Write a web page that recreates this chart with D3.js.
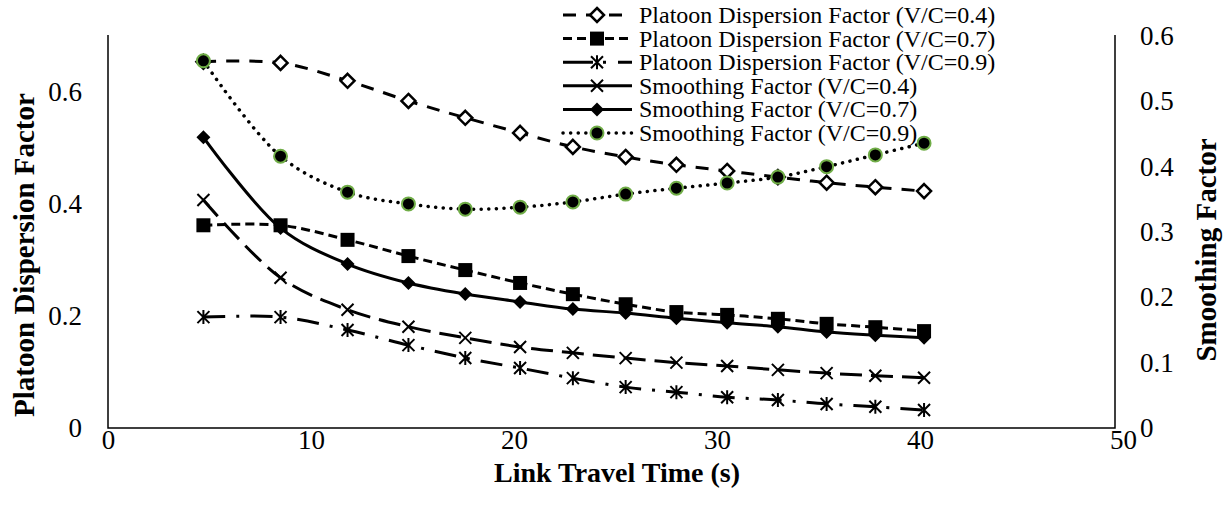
<!DOCTYPE html>
<html>
<head>
<meta charset="utf-8">
<script src="https://cdn.jsdelivr.net/npm/d3@7"></script>
<style>
  body { margin: 0; background: #fff; }
  svg, svg text { font-family: "Liberation Serif", "Times New Roman", serif; }
</style>
</head>
<body>
<svg width="1226" height="507"></svg>
<script>
// link travel time (s)
const travelTime = [4.7, 8.5, 11.8, 14.8, 17.6, 20.3, 22.9, 25.5, 28.0, 30.5, 33.0, 35.4, 37.8, 40.2];

// platoon dispersion factor (left axis)
const pdf04 = [0.654, 0.652, 0.620, 0.584, 0.554, 0.527, 0.502, 0.484, 0.470, 0.459, 0.448, 0.438, 0.430, 0.423];
const pdf07 = [0.362, 0.362, 0.336, 0.307, 0.282, 0.259, 0.239, 0.221, 0.207, 0.202, 0.195, 0.186, 0.180, 0.173];
const pdf09 = [0.198, 0.198, 0.175, 0.148, 0.125, 0.107, 0.089, 0.073, 0.064, 0.055, 0.050, 0.043, 0.038, 0.032];

// smoothing factor (right axis)
const sf04 = [0.349, 0.230, 0.181, 0.155, 0.138, 0.124, 0.115, 0.107, 0.100, 0.095, 0.089, 0.084, 0.080, 0.077];
const sf07 = [0.445, 0.306, 0.251, 0.222, 0.205, 0.193, 0.182, 0.176, 0.168, 0.161, 0.155, 0.147, 0.142, 0.138];
const sf09 = [0.562, 0.416, 0.361, 0.343, 0.335, 0.338, 0.346, 0.358, 0.367, 0.375, 0.384, 0.400, 0.418, 0.436];

const xTicks = [0, 10, 20, 30, 40, 50];
const leftTicks = [0, 0.2, 0.4, 0.6];
const rightTicks = [0, 0.1, 0.2, 0.3, 0.4, 0.5, 0.6];

let svg = d3.select("svg");

let xScale = d3.scaleLinear().domain([0, 50]).range([108, 1123]);
let yLeft = d3.scaleLinear().domain([0, 0.7]).range([428, 36]);
let yRight = d3.scaleLinear().domain([0, 0.6]).range([428, 36]);

let series = [
    {name: "Platoon Dispersion Factor (V/C=0.4)", values: pdf04, axis: yLeft, dash: "13,10", width: 3, marker: "diamondOpen"},
    {name: "Platoon Dispersion Factor (V/C=0.7)", values: pdf07, axis: yLeft, dash: "9,5", width: 3, marker: "square"},
    {name: "Platoon Dispersion Factor (V/C=0.9)", values: pdf09, axis: yLeft, dash: "22,11,3,11", width: 3, marker: "asterisk", legendDash: "30,10,3,12"},
    {name: "Smoothing Factor (V/C=0.4)", values: sf04, axis: yRight, dash: "22,9", width: 3, marker: "cross", legendDash: "none"},
    {name: "Smoothing Factor (V/C=0.7)", values: sf07, axis: yRight, dash: null, width: 3, marker: "diamond"},
    {name: "Smoothing Factor (V/C=0.9)", values: sf09, axis: yRight, dash: "0.1,7.5", width: 3.5, marker: "circle", cap: "round"}
];

let tickFont = g => g.selectAll("text")
    .style("font-family", "'Liberation Serif', serif")
    .style("font-size", "27px")
    .attr("fill", "#000");

// axes (no tick marks, only labels)
let xAxis = d3.axisBottom(xScale).tickValues(xTicks).tickSize(0).tickPadding(2).tickFormat(d3.format("d"));
svg.append("g")
    .attr("transform", "translate(0,428)")
    .call(xAxis)
    .call(g => g.select(".domain").remove())
    .call(tickFont);

let lAxis = d3.axisLeft(yLeft).tickValues(leftTicks).tickSize(0).tickPadding(26).tickFormat(d => d === 0 ? "0" : d3.format(".1f")(d));
svg.append("g")
    .attr("transform", "translate(108,0)")
    .call(lAxis)
    .call(g => g.select(".domain").remove())
    .call(tickFont);

let rAxis = d3.axisRight(yRight).tickValues(rightTicks).tickSize(0).tickPadding(25).tickFormat(d => d === 0 ? "0" : d3.format(".1f")(d));
svg.append("g")
    .attr("transform", "translate(1115,0)")
    .call(rAxis)
    .call(g => g.select(".domain").remove())
    .call(tickFont);

// plot frame: left, bottom, right lines
svg.append("path")
    .attr("d", "M108,35V428H1115V35")
    .attr("fill", "none")
    .attr("stroke", "#000")
    .attr("stroke-width", 1.5);

// axis titles
svg.append("text")
    .attr("x", 617).attr("y", 482)
    .attr("text-anchor", "middle")
    .attr("font-weight", "bold").attr("font-size", 28)
    .text("Link Travel Time (s)");

svg.append("text")
    .attr("transform", "translate(34,255) rotate(-90)")
    .attr("text-anchor", "middle")
    .attr("font-weight", "bold").attr("font-size", 29)
    .text("Platoon Dispersion Factor");

svg.append("text")
    .attr("transform", "translate(1216,250) rotate(-90)")
    .attr("text-anchor", "middle")
    .attr("font-weight", "bold").attr("font-size", 29)
    .text("Smoothing Factor");

// markers
let drawMarker = (g, type, x, y) => {
    if (type === "diamondOpen") {
        g.append("path").attr("d", `M${x},${y - 7}L${x + 7},${y}L${x},${y + 7}L${x - 7},${y}Z`)
            .attr("fill", "#fff").attr("stroke", "#000").attr("stroke-width", 2.5);
    } else if (type === "diamond") {
        g.append("path").attr("d", `M${x},${y - 7}L${x + 7},${y}L${x},${y + 7}L${x - 7},${y}Z`)
            .attr("fill", "#000");
    } else if (type === "square") {
        g.append("rect").attr("x", x - 7).attr("y", y - 7).attr("width", 14).attr("height", 14)
            .attr("fill", "#000");
    } else if (type === "cross") {
        g.append("path").attr("d", `M${x - 6},${y - 6}L${x + 6},${y + 6}M${x - 6},${y + 6}L${x + 6},${y - 6}`)
            .attr("stroke", "#000").attr("stroke-width", 2);
    } else if (type === "asterisk") {
        g.append("path").attr("d", `M${x - 6},${y - 6}L${x + 6},${y + 6}M${x - 6},${y + 6}L${x + 6},${y - 6}M${x},${y - 7}V${y + 7}`)
            .attr("stroke", "#000").attr("stroke-width", 2);
    } else if (type === "circle") {
        g.append("circle").attr("cx", x).attr("cy", y).attr("r", 6.5)
            .attr("fill", "#000").attr("stroke", "#70AD47").attr("stroke-width", 2);
    }
};

let line = (s) => d3.line()
    .x((d, i) => xScale(travelTime[i]))
    .y(d => s.axis(d))
    .curve(d3.curveCatmullRom.alpha(0.5));

// draw lines first then markers, in series order
series.forEach(s => {
    let g = svg.append("g");
    g.append("path")
        .datum(s.values)
        .attr("d", line(s))
        .attr("fill", "none")
        .attr("stroke", "#000")
        .attr("stroke-width", s.width)
        .attr("stroke-linecap", s.cap || "butt")
        .attr("stroke-dasharray", s.dash);
    s.values.forEach((v, i) => drawMarker(g, s.marker, xScale(travelTime[i]), s.axis(v)));
});

// legend
let legend = svg.append("g");
series.forEach((s, i) => {
    let y = 15 + i * 23.6;
    legend.append("line")
        .attr("x1", 563).attr("x2", 632).attr("y1", y).attr("y2", y)
        .attr("stroke", "#000")
        .attr("stroke-width", s.width)
        .attr("stroke-linecap", s.cap || "butt")
        .attr("stroke-dasharray", s.legendDash || s.dash);
    drawMarker(legend, s.marker, 597, y);
    legend.append("text")
        .attr("x", 639).attr("y", y + 8)
        .attr("font-size", 24)
        .text(s.name);
});
</script>
</body>
</html>
